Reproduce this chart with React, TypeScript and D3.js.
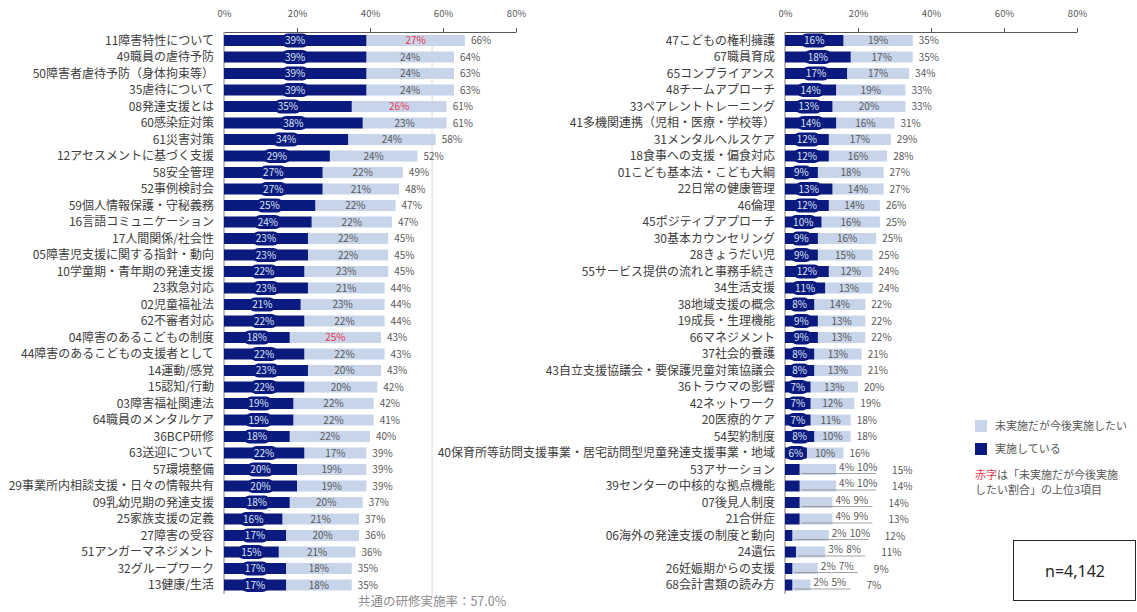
import React, { useEffect, useRef } from 'react';
import * as d3 from 'd3';

// left panel (top 34 topics)
const leftCategories = [
  '11障害特性について', '49職員の虐待予防', '50障害者虐待予防（身体拘束等）', '35虐待について',
  '08発達支援とは', '60感染症対策', '61災害対策', '12アセスメントに基づく支援', '58安全管理',
  '52事例検討会', '59個人情報保護・守秘義務', '16言語コミュニケーション', '17人間関係/社会性',
  '05障害児支援に関する指針・動向', '10学童期・青年期の発達支援', '23救急対応', '02児童福祉法',
  '62不審者対応', '04障害のあるこどもの制度', '44障害のあるこどもの支援者として', '14運動/感覚',
  '15認知/行動', '03障害福祉関連法', '64職員のメンタルケア', '36BCP研修', '63送迎について',
  '57環境整備', '29事業所内相談支援・日々の情報共有', '09乳幼児期の発達支援', '25家族支援の定義',
  '27障害の受容', '51アンガーマネジメント', '32グループワーク', '13健康/生活',
];
const leftDone = [39, 39, 39, 39, 35, 38, 34, 29, 27, 27, 25, 24, 23, 23, 22, 23, 21, 22, 18, 22, 23, 22, 19, 19, 18, 22, 20, 20, 18, 16, 17, 15, 17, 17];
const leftWant = [27, 24, 24, 24, 26, 23, 24, 24, 22, 21, 22, 22, 22, 22, 23, 21, 23, 22, 25, 22, 20, 20, 22, 22, 22, 17, 19, 19, 20, 21, 20, 21, 18, 18];
const leftTotal = [66, 64, 63, 63, 61, 61, 58, 52, 49, 48, 47, 47, 45, 45, 45, 44, 44, 44, 43, 43, 43, 42, 42, 41, 40, 39, 39, 39, 37, 37, 36, 36, 35, 35];

// right panel (remaining 34 topics)
const rightCategories = [
  '47こどもの権利擁護', '67職員育成', '65コンプライアンス', '48チームアプローチ', '33ペアレントトレーニング',
  '41多機関連携（児相・医療・学校等）', '31メンタルヘルスケア', '18食事への支援・偏食対応',
  '01こども基本法・こども大綱', '22日常の健康管理', '46倫理', '45ポジティブアプローチ',
  '30基本カウンセリング', '28きょうだい児', '55サービス提供の流れと事務手続き', '34生活支援',
  '38地域支援の概念', '19成長・生理機能', '66マネジメント', '37社会的養護',
  '43自立支援協議会・要保護児童対策協議会', '36トラウマの影響', '42ネットワーク', '20医療的ケア',
  '54契約制度', '40保育所等訪問支援事業・居宅訪問型児童発達支援事業・地域', '53アサーション',
  '39センターの中核的な拠点機能', '07後見人制度', '21合併症', '06海外の発達支援の制度と動向',
  '24遺伝', '26妊娠期からの支援', '68会計書類の読み方',
];
const rightDone = [16, 18, 17, 14, 13, 14, 12, 12, 9, 13, 12, 10, 9, 9, 12, 11, 8, 9, 9, 8, 8, 7, 7, 7, 8, 6, 4, 4, 4, 4, 2, 3, 2, 2];
const rightWant = [19, 17, 17, 19, 20, 16, 17, 16, 18, 14, 14, 16, 16, 15, 12, 13, 14, 13, 13, 13, 13, 13, 12, 11, 10, 10, 10, 10, 9, 9, 10, 8, 7, 5];
const rightTotal = [35, 35, 34, 33, 33, 31, 29, 28, 27, 27, 26, 25, 25, 25, 24, 24, 22, 22, 22, 21, 21, 20, 19, 18, 18, 16, 15, 14, 14, 13, 12, 11, 9, 7];

// top 3 of "未実施だが今後実施したい"
const redRows = ['11障害特性について', '08発達支援とは', '04障害のあるこどもの制度'];
const tickValues = [0, 20, 40, 60, 80];
const commonRate = 57.0;
const legendLabels = ['未実施だが今後実施したい', '実施している'];
const sampleSize = 'n=4,142';

const NAVY = '#0b1a7e';
const LIGHT = '#c7d4e9';
const GREY = '#595959';
const RED = '#e8384f';
const FONT = '"Noto Sans CJK JP", "Noto Sans", sans-serif';

const App: React.FC = () => {
  const svgRef = useRef<SVGSVGElement>(null);

  useEffect(() => {
    const svg = d3.select(svgRef.current);
    svg.selectAll('*').remove();
    svg.style('font-family', FONT);

    const drawPanel = (
      cats: string[], done: number[], want: number[], total: number[],
      range: [number, number], withRefLine: boolean,
    ) => {
      const g = svg.append('g');
      const x = d3.scaleLinear().domain([0, 80]).range(range);
      const y = d3.scaleBand<string>().domain(cats).range([32.25, 593.25]);
      const bh = 11;

      // reference line for the common training rate
      if (withRefLine) {
        g.append('line')
          .attr('x1', x(commonRate)).attr('x2', x(commonRate))
          .attr('y1', 34).attr('y2', 596)
          .attr('stroke', '#d9d9d9');
        g.append('text')
          .attr('x', x(commonRate)).attr('y', 606)
          .attr('text-anchor', 'middle')
          .attr('fill', '#8c8c8c')
          .style('font-size', '12.5px')
          .text(`共通の研修実施率：${commonRate.toFixed(1)}%`);
      }

      // top axis
      const axis = g.append('g')
        .attr('transform', 'translate(0,32)')
        .call(d3.axisTop(x).tickValues(tickValues).tickSize(4).tickSizeOuter(0).tickPadding(11)
          .tickFormat(d => `${d}%`));
      axis.select('.domain').attr('stroke', GREY);
      axis.selectAll('.tick line').attr('stroke', GREY);
      axis.selectAll('.tick line').filter(d => d === 0).remove();
      axis.selectAll('text').attr('fill', GREY).style('font-size', '9.5px').style('font-family', FONT);

      // category axis line
      g.append('line')
        .attr('x1', x(0)).attr('x2', x(0))
        .attr('y1', 32).attr('y2', 594)
        .attr('stroke', '#7f7f7f');

      // category labels
      g.selectAll('.cat')
        .data(cats)
        .enter()
        .append('text')
        .attr('x', x(0) - 10)
        .attr('y', d => (y(d) as number) + y.bandwidth() / 2)
        .attr('dy', '0.35em')
        .attr('text-anchor', 'end')
        .attr('fill', '#404040')
        .style('font-size', '12px')
        .text(d => d);

      cats.forEach((c, i) => {
        const cy = (y(c) as number) + y.bandwidth() / 2;
        const end = x(done[i] + want[i]);

        g.append('rect')
          .attr('x', x(done[i])).attr('y', cy - bh / 2)
          .attr('width', end - x(done[i])).attr('height', bh)
          .attr('fill', LIGHT);
        g.append('rect')
          .attr('x', x(0)).attr('y', cy - bh / 2)
          .attr('width', x(done[i]) - x(0)).attr('height', bh)
          .attr('fill', NAVY);

        const wantColor = redRows.includes(c) ? RED : GREY;

        if (done[i] < 5) {
          // small values: labels pulled out with a leader line
          g.append('line')
            .attr('x1', x(done[i]) + 2).attr('x2', end + 40)
            .attr('y1', cy + 4).attr('y2', cy + 4)
            .attr('stroke', '#8c8c8c').attr('stroke-width', 0.8);
          g.append('text')
            .attr('x', end + 3).attr('y', cy).attr('dy', '0.1em')
            .attr('fill', GREY).style('font-size', '10px')
            .text(`${done[i]}%`);
          g.append('text')
            .attr('x', end + 21).attr('y', cy).attr('dy', '0.1em')
            .attr('fill', wantColor).style('font-size', '10px')
            .text(`${want[i]}%`);
          g.append('text')
            .attr('x', end + 56).attr('y', cy).attr('dy', '0.4em')
            .attr('fill', GREY).style('font-size', '10px')
            .text(`${total[i]}%`);
          return;
        }

        // pill label on the dark bar
        const lbl = `${done[i]}%`;
        const pw = lbl.length * 6 + 9;
        const px = Math.max(x(done[i]) / 2 + x(0) / 2, x(0) + pw / 2 - 2);
        g.append('rect')
          .attr('x', px - pw / 2).attr('y', cy - 7)
          .attr('width', pw).attr('height', 14)
          .attr('rx', 6)
          .attr('fill', NAVY);
        g.append('text')
          .attr('x', px).attr('y', cy).attr('dy', '0.35em')
          .attr('text-anchor', 'middle')
          .attr('fill', '#dde5f5')
          .style('font-size', '10px')
          .text(lbl);

        g.append('text')
          .attr('x', x(done[i] + want[i] / 2)).attr('y', cy).attr('dy', '0.35em')
          .attr('text-anchor', 'middle')
          .attr('fill', wantColor)
          .style('font-size', '10px')
          .text(`${want[i]}%`);

        g.append('text')
          .attr('x', end + 6).attr('y', cy).attr('dy', '0.35em')
          .attr('fill', GREY)
          .style('font-size', '10px')
          .text(`${total[i]}%`);
      });
    };

    drawPanel(leftCategories, leftDone, leftWant, leftTotal, [224, 516], true);
    drawPanel(rightCategories, rightDone, rightWant, rightTotal, [785, 1077], false);

    // legend
    const legend = svg.append('g').attr('transform', 'translate(975,420)');
    [LIGHT, NAVY].forEach((col, i) => {
      legend.append('rect')
        .attr('x', 0).attr('y', i * 23)
        .attr('width', 12).attr('height', 12)
        .attr('fill', col);
      legend.append('text')
        .attr('x', 20).attr('y', i * 23 + 6).attr('dy', '0.35em')
        .attr('fill', GREY)
        .style('font-size', '11px')
        .text(legendLabels[i]);
    });
    const note = legend.append('text')
      .attr('x', 0).attr('y', 55).attr('dy', '0.35em')
      .style('font-size', '11px');
    note.append('tspan').attr('fill', RED).text('赤字');
    note.append('tspan').attr('fill', GREY).text('は「未実施だが今後実施');
    legend.append('text')
      .attr('x', 0).attr('y', 70).attr('dy', '0.35em')
      .attr('fill', GREY)
      .style('font-size', '11px')
      .text('したい割合」の上位3項目');

    // sample size box
    svg.append('rect')
      .attr('x', 1013.5).attr('y', 540.5)
      .attr('width', 122).attr('height', 60)
      .attr('fill', 'none')
      .attr('stroke', '#262626');
    svg.append('text')
      .attr('x', 1075).attr('y', 571).attr('dy', '0.35em')
      .attr('text-anchor', 'middle')
      .attr('fill', '#262626')
      .style('font-size', '16px')
      .style('font-family', '"Noto Sans", sans-serif')
      .text(sampleSize);
  }, []);

  return (
    <div style={{ position: 'absolute', left: 0, top: 0, background: '#fff' }}>
      <svg ref={svgRef} width={1137} height={612} />
    </div>
  );
};

export default App;
